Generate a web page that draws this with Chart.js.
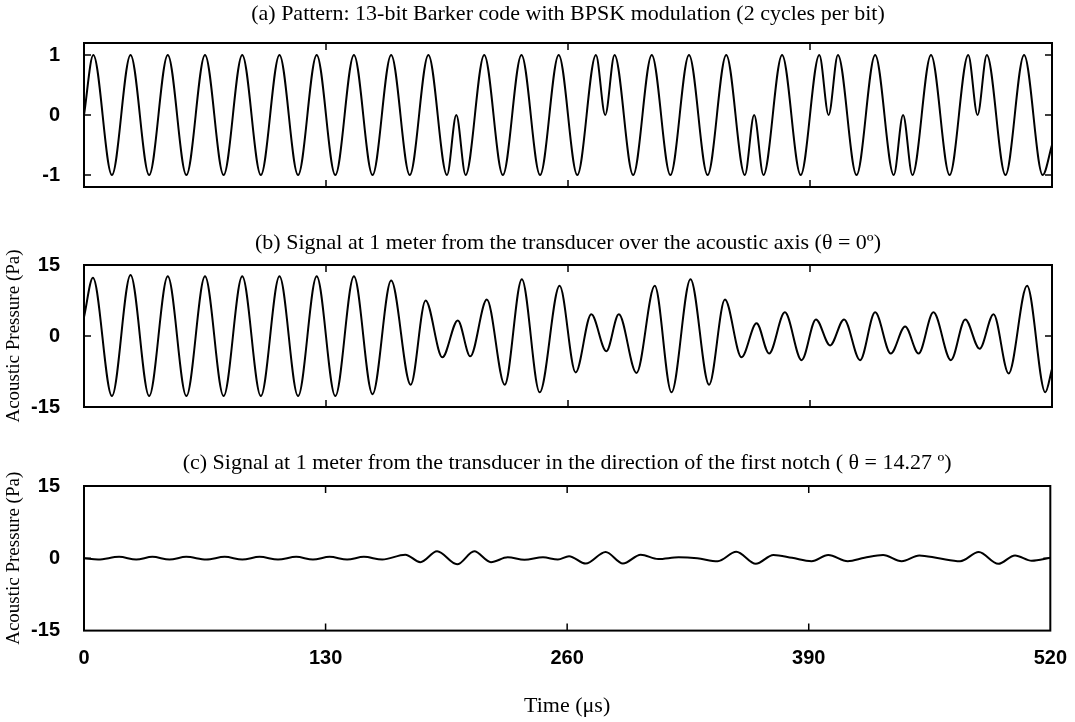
<!DOCTYPE html>
<html>
<head>
<meta charset="utf-8">
<script src="https://cdn.jsdelivr.net/npm/chart.js@4.4.1/dist/chart.umd.min.js"></script>
<style>
  body { margin: 0; background: #fff; }
  .painel { position: absolute; left: 0; width: 1075px; }
</style>
</head>
<body>
<div class="painel" style="top:0px;height:215px"><canvas id="padrao"></canvas></div>
<div class="painel" style="top:225px;height:210px"><canvas id="eixo"></canvas></div>
<div class="painel" style="top:440px;height:282px"><canvas id="notch"></canvas></div>
<script>
// valores (extremos de cada meio ciclo), tempo em us
const tempoA = [0,5,15,25,35,45,55,65,75,85,95,105,115,125,135,145,155,165,175,185,195,200,205,215,225,235,245,255,265,275,280,285,295,305,315,325,335,345,355,360,365,375,385,395,400,405,415,425,435,440,445,455,465,475,480,485,495,505,515,520];
const sinalA = [0,1,-1,1,-1,1,-1,1,-1,1,-1,1,-1,1,-1,1,-1,1,-1,1,-1,0,-1,1,-1,1,-1,1,-1,1,0,1,-1,1,-1,1,-1,1,-1,0,-1,1,-1,1,0,1,-1,1,-1,0,-1,1,-1,1,0,1,-1,1,-1,-0.5];

const tempoB = [0,4.8,15,25,35,45,55,65,75,85,95,105,115,125,135,145,155,165,175.5,183.5,192.5,200.8,207.5,216.4,226,235.2,244.8,255.5,264.1,272.5,280.6,287.3,296.8,306.6,315.6,325.8,335.8,344.3,353.2,361.3,368,376.5,385.5,393.2,400.8,408.3,416.9,425,433.4,441.1,448.3,456.3,465.7,473.4,481.1,488.6,496.7,506.6,516.4,520];
const pressaoB = [4,12.3,-12.7,12.9,-12.7,12.6,-12.7,12.6,-12.7,12.6,-12.7,12.6,-12.7,12.6,-12.7,12.6,-12.3,11.7,-10.3,7.5,-4.5,3.3,-4.3,7.7,-10.3,12,-11.9,10.6,-7.7,4.6,-3.2,4.6,-7.8,10.6,-11.9,12,-10.3,7.7,-4.5,2.7,-3.7,5,-5.1,3.5,-2,3.5,-5.1,5,-3.7,2,-3.7,5,-5.1,3.5,-2.7,4.6,-7.9,10.6,-11.9,-7];

const tempoC = [0,7.6,18.9,28.1,36.8,46,55,65.8,75.7,85.2,94.5,104.4,114.2,123.2,132.2,141.6,150.6,160.5,172.9,181,190,200.8,210,219,228,237,247,255,261,270,280.7,290,299.6,309,320,330,341,351,361.5,371,381,391.5,400.5,411,420,430,440,449.5,460,471.5,481.5,492,501,510,520];
const pressaoC = [0,-0.25,0.3,-0.25,0.3,-0.25,0.3,-0.25,0.3,-0.25,0.3,-0.25,0.3,-0.25,0.3,-0.25,0.3,-0.25,0.75,-0.8,1.45,-1.25,1.45,-0.8,0.2,-0.3,0.2,-0.25,0.45,-1.1,1.3,-1.1,0.75,-0.15,0.2,0,-0.6,1.35,-1.15,0.7,0.1,-0.6,0.7,-0.6,0.1,0.7,-0.6,0.6,0,-0.6,1.3,-1.15,0.6,-0.5,0.1];

const ticksTempo = [0, 130, 260, 390, 520];
const ticksA = [-1, 0, 1];
const ticksPressao = [-15, 0, 15];

const tituloA = '(a) Pattern: 13-bit Barker code with BPSK modulation (2 cycles per bit)';
const tituloB = '(b) Signal at 1 meter from the transducer over the acoustic axis (\u03b8 = 0\u00ba)';
const tituloC = '(c) Signal at 1 meter from the transducer in the direction of the first notch ( \u03b8 = 14.27 \u00ba)';
const rotuloY = 'Acoustic Pressure (Pa)';
const rotuloX = 'Time (\u03bcs)';

Chart.defaults.font.family = "'Liberation Sans', Arial, sans-serif";
Chart.defaults.color = '#000';

const serif = "'Liberation Serif', 'Times New Roman', serif";

// moldura e marcas internas (como no matlab)
const moldura = {
  id: 'moldura',
  afterDraw(chart) {
    const ctx = chart.ctx;
    const a = chart.chartArea;
    const sx = chart.scales.x, sy = chart.scales.y;
    ctx.save();
    ctx.strokeStyle = '#000';
    ctx.lineWidth = 1.5;
    ctx.beginPath();
    ticksTempo.forEach(v => {
      const x = sx.getPixelForValue(v);
      if (x <= a.left + 1 || x >= a.right - 1) return;
      ctx.moveTo(x, a.top); ctx.lineTo(x, a.top + 7);
      ctx.moveTo(x, a.bottom); ctx.lineTo(x, a.bottom - 7);
    });
    sy.ticks.forEach(t => {
      const y = sy.getPixelForValue(t.value);
      if (y <= a.top + 1 || y >= a.bottom - 1) return;
      ctx.moveTo(a.left, y); ctx.lineTo(a.left + 7, y);
      ctx.moveTo(a.right, y); ctx.lineTo(a.right - 7, y);
    });
    ctx.stroke();
    ctx.lineWidth = 2;
    ctx.strokeRect(a.left, a.top, a.right - a.left, a.bottom - a.top);
    ctx.restore();
  }
};

function pontos(xs, ys) {
  return xs.map((x, i) => ({x: x, y: ys[i]}));
}

function grafico(id, xs, ys, opts) {
  const canvas = document.getElementById(id);
  return new Chart(canvas, {
    type: 'line',
    data: {
      datasets: [{
        data: pontos(xs, ys),
        borderColor: '#000',
        borderWidth: 2,
        pointRadius: 0,
        cubicInterpolationMode: 'monotone',
        fill: false
      }]
    },
    options: {
      responsive: true,
      maintainAspectRatio: false,
      animation: false,
      devicePixelRatio: 1,
      layout: { padding: { top: 0, left: 0, right: 23, bottom: opts.padBaixo } },
      plugins: {
        legend: { display: false },
        tooltip: { enabled: false },
        title: {
          display: true,
          text: opts.titulo,
          fullSize: false,
          color: '#000',
          font: { family: serif, size: 22, weight: 'normal' },
          padding: opts.padTitulo
        }
      },
      scales: {
        x: {
          type: 'linear',
          min: 0,
          max: 520,
          display: opts.mostraX,
          grid: { display: false },
          border: { display: false },
          afterBuildTicks: s => { s.ticks = ticksTempo.map(v => ({value: v})); },
          ticks: { autoSkip: false, maxRotation: 0, padding: 8, font: { size: 20, weight: 'bold' } },
          title: {
            display: opts.mostraX,
            text: rotuloX,
            font: { family: serif, size: 22 },
            padding: { top: 14, bottom: 0 }
          }
        },
        y: {
          min: opts.yMin,
          max: opts.yMax,
          grid: { display: false },
          border: { display: false },
          afterBuildTicks: s => { s.ticks = opts.yTicks.map(v => ({value: v})); },
          afterFit: s => { s.width = 84; },
          ticks: { padding: 16, font: { size: 20, weight: 'bold' } },
          title: {
            display: opts.rotuloY,
            text: rotuloY,
            font: { family: serif, size: 19 },
            padding: { top: 3, bottom: 0 }
          }
        }
      }
    },
    plugins: [moldura]
  });
}

grafico('padrao', tempoA, sinalA, {
  titulo: tituloA, padTitulo: {top: 1, bottom: 15.6}, padBaixo: 12,
  yMin: -1.2, yMax: 1.2, yTicks: ticksA, mostraX: false, rotuloY: false
});

grafico('eixo', tempoB, pressaoB, {
  titulo: tituloB, padTitulo: {top: 5, bottom: 8.6}, padBaixo: 12,
  yMin: -15, yMax: 15, yTicks: ticksPressao, mostraX: false, rotuloY: true
});

grafico('notch', tempoC, pressaoC, {
  titulo: tituloC, padTitulo: {top: 10, bottom: 9.6}, padBaixo: 3,
  yMin: -15, yMax: 15, yTicks: ticksPressao, mostraX: true, rotuloY: true
});
</script>
</body>
</html>
